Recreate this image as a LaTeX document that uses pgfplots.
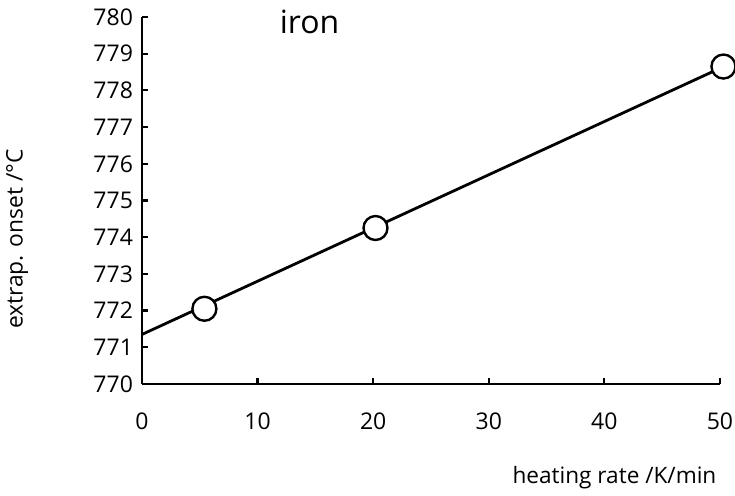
\documentclass[border=0pt]{standalone}
\usepackage{fontspec}
\setmainfont{Open Sans}
\usepackage{pgfplots}
\pgfplotsset{compat=1.18}
\begin{document}
\begin{tikzpicture}
\begin{axis}[
  scale only axis, width=289pt, height=183.5pt,
  xmin=0, xmax=50, ymin=770, ymax=780,
  axis x line*=bottom, axis y line*=left,
  axis line style={line width=1.4pt},
  xtick={0,10,20,30,40,50}, ytick={770,771,...,780},
  tick align=inside, major tick length=3pt,
  tick style={line width=1.1pt, black},
  /pgf/number format/assume math mode=true,
  /pgf/number format/1000 sep={},
  ticklabel style={font=\fontsize{11.5}{14}\selectfont},
  xticklabel style={yshift=-11pt},
  yticklabel style={xshift=-1pt},
  clip=false,
]
\addplot[line width=1.4pt, black, no marks] coordinates {(0,771.35) (51.5,778.82)};
\addplot[only marks, mark=*, mark size=6pt, mark options={line width=1.2pt, fill=white, draw=black}]
  coordinates {(5.4,772.05) (20.2,774.25) (50.3,778.65)};
\node[font=\fontsize{16}{18}\selectfont] at (axis description cs:0.29,0.986) {iron};
\node[font=\fontsize{11.3}{13}\selectfont, anchor=east] at (axis description cs:1.006,-0.256) {heating rate /K/min};
\node[font=\fontsize{11.4}{13}\selectfont, rotate=90] at (axis description cs:-0.216,0.395) {extrap. onset /°C};
\end{axis}
\pgfresetboundingbox
\path (-71pt,-56pt) rectangle (296.5pt,192pt);
\end{tikzpicture}
\end{document}
